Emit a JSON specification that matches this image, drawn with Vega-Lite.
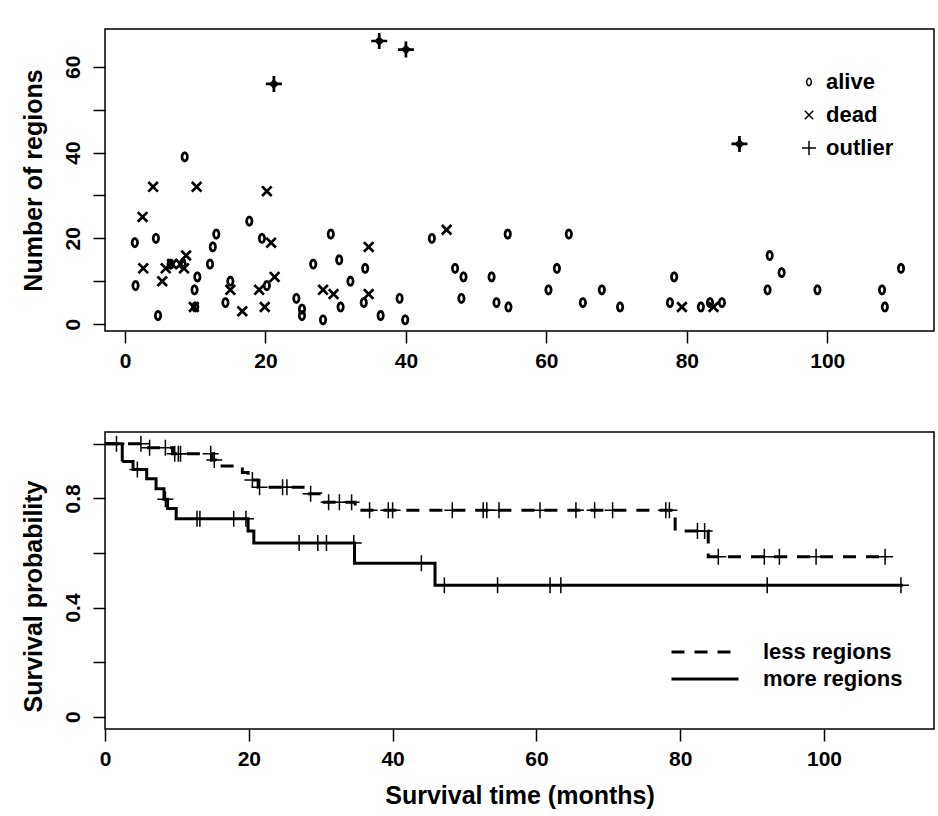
{
  "$schema": "https://vega.github.io/schema/vega-lite/v6.json",
  "padding": {"left": 20, "top": 26, "right": 0, "bottom": 0},
  "background": "white",
  "config": {
    "font": "Liberation Sans",
    "view": {"stroke": "black", "strokeWidth": 1.5},
    "axis": {"domain": false, "grid": false, "tickColor": "black", "tickWidth": 1.5, "tickSize": 12, "labelFont": "Liberation Sans", "labelFontSize": 21, "labelFontWeight": "bold", "labelColor": "black", "titleFont": "Liberation Sans", "titleFontSize": 25, "titleFontWeight": "bold", "titleColor": "black", "labelPadding": 7, "labelFlush": false},
    "legend": {"labelFont": "Liberation Sans", "labelFontSize": 22, "labelFontWeight": "bold", "labelColor": "black", "title": null}
  },
  "datasets": {
    "regions": [
      {"time": 1.4, "regions": 19, "status": "alive"}, {"time": 1.5, "regions": 9, "status": "alive"}, {"time": 4.4, "regions": 20, "status": "alive"}, {"time": 4.7, "regions": 2, "status": "alive"}, {"time": 6.5, "regions": 14, "status": "alive"}, {"time": 8.2, "regions": 14, "status": "alive"}, {"time": 8.5, "regions": 39, "status": "alive"}, {"time": 9.9, "regions": 8, "status": "alive"}, {"time": 10.0, "regions": 4, "status": "alive"}, {"time": 10.3, "regions": 11, "status": "alive"}, {"time": 12.1, "regions": 14, "status": "alive"}, {"time": 12.5, "regions": 18, "status": "alive"}, {"time": 13.0, "regions": 21, "status": "alive"}, {"time": 14.3, "regions": 5, "status": "alive"}, {"time": 15.0, "regions": 10, "status": "alive"}, {"time": 17.7, "regions": 24, "status": "alive"}, {"time": 19.5, "regions": 20, "status": "alive"}, {"time": 20.2, "regions": 9, "status": "alive"}, {"time": 24.4, "regions": 6, "status": "alive"}, {"time": 25.2, "regions": 2, "status": "alive"}, {"time": 25.2, "regions": 3.5, "status": "alive"}, {"time": 26.8, "regions": 14, "status": "alive"}, {"time": 28.2, "regions": 1, "status": "alive"}, {"time": 29.3, "regions": 21, "status": "alive"}, {"time": 30.5, "regions": 15, "status": "alive"}, {"time": 30.7, "regions": 4, "status": "alive"}, {"time": 32.1, "regions": 10, "status": "alive"}, {"time": 34.0, "regions": 5, "status": "alive"}, {"time": 34.2, "regions": 13, "status": "alive"}, {"time": 36.4, "regions": 2, "status": "alive"}, {"time": 39.1, "regions": 6, "status": "alive"}, {"time": 39.9, "regions": 1, "status": "alive"}, {"time": 43.7, "regions": 20, "status": "alive"}, {"time": 47.0, "regions": 13, "status": "alive"}, {"time": 47.9, "regions": 6, "status": "alive"}, {"time": 48.2, "regions": 11, "status": "alive"}, {"time": 52.2, "regions": 11, "status": "alive"}, {"time": 52.9, "regions": 5, "status": "alive"}, {"time": 54.5, "regions": 21, "status": "alive"}, {"time": 54.6, "regions": 4, "status": "alive"}, {"time": 60.3, "regions": 8, "status": "alive"}, {"time": 61.5, "regions": 13, "status": "alive"}, {"time": 63.2, "regions": 21, "status": "alive"}, {"time": 65.2, "regions": 5, "status": "alive"}, {"time": 67.9, "regions": 8, "status": "alive"}, {"time": 70.5, "regions": 4, "status": "alive"}, {"time": 77.6, "regions": 5, "status": "alive"}, {"time": 78.2, "regions": 11, "status": "alive"}, {"time": 82.0, "regions": 4, "status": "alive"}, {"time": 83.3, "regions": 5, "status": "alive"}, {"time": 85.0, "regions": 5, "status": "alive"}, {"time": 91.5, "regions": 8, "status": "alive"}, {"time": 91.8, "regions": 16, "status": "alive"}, {"time": 93.5, "regions": 12, "status": "alive"}, {"time": 98.6, "regions": 8, "status": "alive"}, {"time": 107.8, "regions": 8, "status": "alive"}, {"time": 108.2, "regions": 4, "status": "alive"}, {"time": 110.5, "regions": 13, "status": "alive"},
      {"time": 2.5, "regions": 25, "status": "dead"}, {"time": 2.6, "regions": 13, "status": "dead"}, {"time": 4.0, "regions": 32, "status": "dead"}, {"time": 5.3, "regions": 10, "status": "dead"}, {"time": 5.8, "regions": 13, "status": "dead"}, {"time": 6.7, "regions": 14, "status": "dead"}, {"time": 7.9, "regions": 14, "status": "dead"}, {"time": 8.4, "regions": 13, "status": "dead"}, {"time": 8.7, "regions": 16, "status": "dead"}, {"time": 9.8, "regions": 4, "status": "dead"}, {"time": 10.2, "regions": 32, "status": "dead"}, {"time": 15.0, "regions": 8, "status": "dead"}, {"time": 16.7, "regions": 3, "status": "dead"}, {"time": 19.1, "regions": 8, "status": "dead"}, {"time": 19.9, "regions": 4, "status": "dead"}, {"time": 20.2, "regions": 31, "status": "dead"}, {"time": 20.8, "regions": 19, "status": "dead"}, {"time": 21.3, "regions": 11, "status": "dead"}, {"time": 28.2, "regions": 8, "status": "dead"}, {"time": 29.7, "regions": 7, "status": "dead"}, {"time": 34.7, "regions": 18, "status": "dead"}, {"time": 34.7, "regions": 7, "status": "dead"}, {"time": 45.8, "regions": 22, "status": "dead"}, {"time": 79.3, "regions": 4, "status": "dead"}, {"time": 83.8, "regions": 4, "status": "dead"},
      {"time": 21.2, "regions": 56, "status": "outlier"}, {"time": 36.2, "regions": 66, "status": "outlier"}, {"time": 40.0, "regions": 64, "status": "outlier"}, {"time": 87.5, "regions": 42, "status": "outlier"}
    ],
    "km": [
      {"group": "less regions", "t": 0, "s": 1.0}, {"group": "less regions", "t": 5.2, "s": 0.985}, {"group": "less regions", "t": 9.4, "s": 0.963}, {"group": "less regions", "t": 14.9, "s": 0.94}, {"group": "less regions", "t": 15.4, "s": 0.918}, {"group": "less regions", "t": 19.1, "s": 0.895}, {"group": "less regions", "t": 19.9, "s": 0.867}, {"group": "less regions", "t": 21.3, "s": 0.841}, {"group": "less regions", "t": 28.4, "s": 0.817}, {"group": "less regions", "t": 30.0, "s": 0.786}, {"group": "less regions", "t": 34.8, "s": 0.756}, {"group": "less regions", "t": 79.3, "s": 0.68}, {"group": "less regions", "t": 83.9, "s": 0.586}, {"group": "less regions", "t": 108.8, "s": 0.586},
      {"group": "more regions", "t": 0, "s": 1.0}, {"group": "more regions", "t": 2.4, "s": 0.935}, {"group": "more regions", "t": 3.9, "s": 0.906}, {"group": "more regions", "t": 5.8, "s": 0.872}, {"group": "more regions", "t": 7.1, "s": 0.835}, {"group": "more regions", "t": 8.2, "s": 0.797}, {"group": "more regions", "t": 8.7, "s": 0.763}, {"group": "more regions", "t": 9.9, "s": 0.725}, {"group": "more regions", "t": 19.9, "s": 0.68}, {"group": "more regions", "t": 20.7, "s": 0.636}, {"group": "more regions", "t": 34.7, "s": 0.562}, {"group": "more regions", "t": 45.9, "s": 0.482}, {"group": "more regions", "t": 111.0, "s": 0.482}
    ],
    "censor": [
      {"group": "less regions", "t": 1.6, "s": 1.0}, {"group": "less regions", "t": 5.0, "s": 1.0}, {"group": "less regions", "t": 6.2, "s": 0.985}, {"group": "less regions", "t": 8.4, "s": 0.985}, {"group": "less regions", "t": 9.7, "s": 0.963}, {"group": "less regions", "t": 10.2, "s": 0.963}, {"group": "less regions", "t": 10.5, "s": 0.963}, {"group": "less regions", "t": 14.7, "s": 0.963}, {"group": "less regions", "t": 15.2, "s": 0.94}, {"group": "less regions", "t": 20.5, "s": 0.867}, {"group": "less regions", "t": 21.5, "s": 0.841}, {"group": "less regions", "t": 24.7, "s": 0.841}, {"group": "less regions", "t": 25.3, "s": 0.841}, {"group": "less regions", "t": 28.6, "s": 0.817}, {"group": "less regions", "t": 31.1, "s": 0.786}, {"group": "less regions", "t": 32.6, "s": 0.786}, {"group": "less regions", "t": 34.3, "s": 0.786}, {"group": "less regions", "t": 36.8, "s": 0.756}, {"group": "less regions", "t": 39.4, "s": 0.756}, {"group": "less regions", "t": 40.0, "s": 0.756}, {"group": "less regions", "t": 48.3, "s": 0.756}, {"group": "less regions", "t": 52.6, "s": 0.756}, {"group": "less regions", "t": 53.1, "s": 0.756}, {"group": "less regions", "t": 54.8, "s": 0.756}, {"group": "less regions", "t": 60.5, "s": 0.756}, {"group": "less regions", "t": 65.5, "s": 0.756}, {"group": "less regions", "t": 68.1, "s": 0.756}, {"group": "less regions", "t": 70.6, "s": 0.756}, {"group": "less regions", "t": 78.0, "s": 0.756}, {"group": "less regions", "t": 78.5, "s": 0.756}, {"group": "less regions", "t": 82.4, "s": 0.68}, {"group": "less regions", "t": 83.4, "s": 0.68}, {"group": "less regions", "t": 85.3, "s": 0.586}, {"group": "less regions", "t": 91.7, "s": 0.586}, {"group": "less regions", "t": 93.8, "s": 0.586}, {"group": "less regions", "t": 98.9, "s": 0.586}, {"group": "less regions", "t": 108.5, "s": 0.586},
      {"group": "more regions", "t": 4.5, "s": 0.906}, {"group": "more regions", "t": 8.4, "s": 0.797}, {"group": "more regions", "t": 12.8, "s": 0.725}, {"group": "more regions", "t": 13.2, "s": 0.725}, {"group": "more regions", "t": 17.9, "s": 0.725}, {"group": "more regions", "t": 19.6, "s": 0.725}, {"group": "more regions", "t": 27.0, "s": 0.636}, {"group": "more regions", "t": 29.6, "s": 0.636}, {"group": "more regions", "t": 30.8, "s": 0.636}, {"group": "more regions", "t": 34.6, "s": 0.636}, {"group": "more regions", "t": 44.0, "s": 0.562}, {"group": "more regions", "t": 47.2, "s": 0.482}, {"group": "more regions", "t": 54.6, "s": 0.482}, {"group": "more regions", "t": 61.9, "s": 0.482}, {"group": "more regions", "t": 63.4, "s": 0.482}, {"group": "more regions", "t": 92.1, "s": 0.482}, {"group": "more regions", "t": 110.7, "s": 0.482}
    ]
  },
  "spacing": 59,
  "vconcat": [
    {
      "width": 829,
      "height": 302,
      "data": {"name": "regions"},
      "layer": [
        {
          "mark": {"type": "point", "filled": false, "color": "black", "strokeWidth": 2.7, "opacity": 1, "size": 256},
          "encoding": {
            "x": {"field": "time", "type": "quantitative", "scale": {"domain": [-2.85, 115.2], "nice": false, "zero": false}, "axis": {"values": [0, 20, 40, 60, 80, 100], "title": null}},
            "y": {"field": "regions", "type": "quantitative", "scale": {"domain": [-1.6, 68.8], "nice": false, "zero": false}, "axis": {"values": [0, 10, 20, 30, 40, 50, 60], "labelExpr": "datum.value % 20 == 0 ? datum.label : ''", "labelAngle": -90, "labelPadding": 10, "title": "Number of regions", "titlePadding": 16}},
            "shape": {"field": "status", "type": "nominal", "scale": {"domain": ["alive", "dead", "outlier"], "range": ["M0.34,0L0.29,0.26L0.17,0.45L0,0.52L-0.17,0.45L-0.29,0.26L-0.34,0L-0.29,-0.26L-0.17,-0.45L0,-0.52L0.17,-0.45L0.29,-0.26Z", "M-0.6,-0.6L0.6,0.6M-0.6,0.6L0.6,-0.6", "M0,-1V1M-1,0H1"]}, "legend": {"orient": "none", "legendX": 693, "legendY": 42, "symbolSize": 196, "symbolStrokeWidth": 1.5, "symbolStrokeColor": "black", "labelOffset": 6, "rowPadding": 11, "padding": 0}}
          }
        },
        {
          "transform": [{"filter": "datum.status === 'outlier'"}],
          "mark": {"type": "point", "shape": "diamond", "filled": true, "color": "black", "size": 100, "opacity": 1},
          "encoding": {
            "x": {"field": "time", "type": "quantitative"},
            "y": {"field": "regions", "type": "quantitative"}
          }
        }
      ]
    },
    {
      "width": 829,
      "height": 297,
      "encoding": {
        "x": {"field": "t", "type": "quantitative", "scale": {"domain": [0, 115.3], "nice": false, "zero": false}, "axis": {"values": [0, 20, 40, 60, 80, 100], "title": "Survival time (months)", "titlePadding": 14}},
        "y": {"field": "s", "type": "quantitative", "scale": {"domain": [-0.045, 1.043], "nice": false, "zero": false}, "axis": {"values": [0, 0.2, 0.4, 0.6, 0.8, 1], "labelExpr": "datum.value == 0 ? '0' : (abs(datum.value - 0.4) < 0.01 || abs(datum.value - 0.8) < 0.01) ? format(datum.value, '.1f') : ''", "labelAngle": -90, "labelPadding": 10, "title": "Survival probability", "titlePadding": 16, "titleY": 164}}
      },
      "layer": [
        {
          "data": {"name": "km"},
          "transform": [{"filter": "datum.group === 'less regions'"}],
          "mark": {"type": "line", "interpolate": "step-after", "color": "black", "strokeWidth": 3},
          "encoding": {
            "strokeDash": {"field": "group", "type": "nominal", "scale": {"domain": ["less regions"], "range": [[13, 10]]}, "legend": {"orient": "none", "legendX": 565, "legendY": 185, "symbolType": "stroke", "symbolSize": 4489, "symbolStrokeWidth": 3, "symbolStrokeColor": "black", "labelOffset": 23, "padding": 0}}
          }
        },
        {
          "data": {"name": "km"},
          "transform": [{"filter": "datum.group === 'more regions'"}],
          "mark": {"type": "line", "interpolate": "step-after", "color": "black", "strokeWidth": 3},
          "encoding": {
            "strokeDash": {"field": "group", "type": "nominal", "scale": {"domain": ["more regions"], "range": [[1, 0]]}, "legend": {"orient": "none", "legendX": 565, "legendY": 212, "symbolType": "stroke", "symbolSize": 4489, "symbolStrokeWidth": 3, "symbolStrokeColor": "black", "labelOffset": 23, "padding": 0}}
          }
        },
        {
          "data": {"name": "censor"},
          "mark": {"type": "point", "shape": "M0,-1V1M-1,0H1", "size": 256, "filled": false, "color": "black", "strokeWidth": 1.5, "opacity": 1}
        }
      ],
      "resolve": {"scale": {"strokeDash": "independent"}, "legend": {"strokeDash": "independent"}}
    }
  ]
}
